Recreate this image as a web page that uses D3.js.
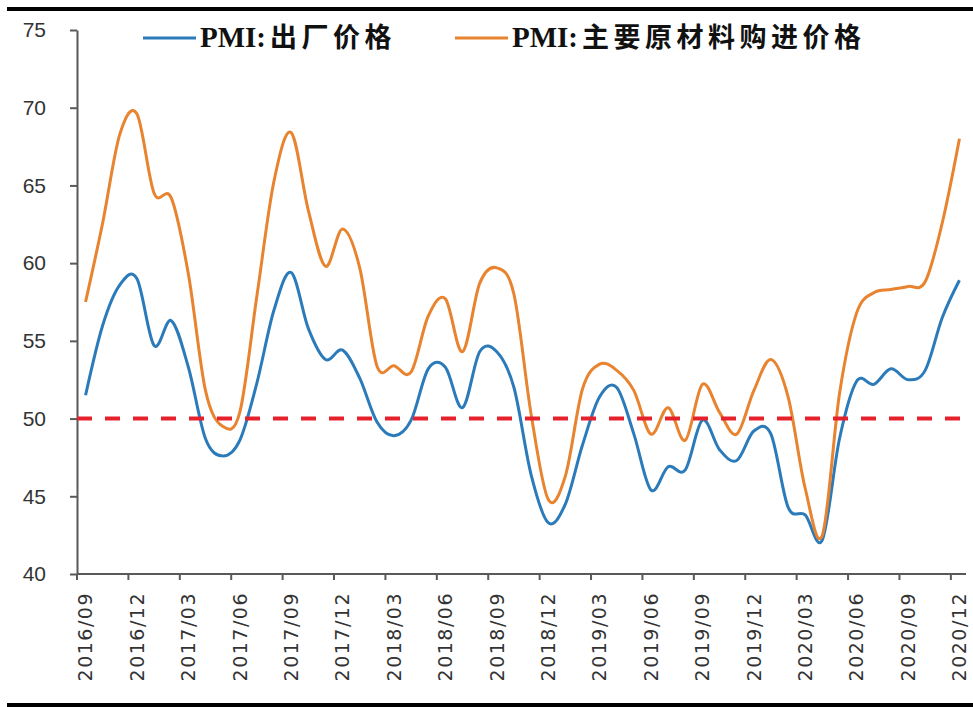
<!DOCTYPE html>
<html>
<head>
<meta charset="utf-8">
<script src="https://cdn.jsdelivr.net/npm/d3@7"></script>
<style>
  html, body { margin: 0; padding: 0; background: #fff; }
  svg { display: block; }
</style>
</head>
<body>
<div id="chart"></div>
<script>
// months shown on the category axis
const months = [
  "2016/09","2016/10","2016/11","2016/12",
  "2017/01","2017/02","2017/03","2017/04","2017/05","2017/06","2017/07","2017/08","2017/09","2017/10","2017/11","2017/12",
  "2018/01","2018/02","2018/03","2018/04","2018/05","2018/06","2018/07","2018/08","2018/09","2018/10","2018/11","2018/12",
  "2019/01","2019/02","2019/03","2019/04","2019/05","2019/06","2019/07","2019/08","2019/09","2019/10","2019/11","2019/12",
  "2020/01","2020/02","2020/03","2020/04","2020/05","2020/06","2020/07","2020/08","2020/09","2020/10","2020/11","2020/12"
];
const tickMonths = [
  "2016/09","2016/12","2017/03","2017/06","2017/09","2017/12","2018/03","2018/06","2018/09",
  "2018/12","2019/03","2019/06","2019/09","2019/12","2020/03","2020/06","2020/09","2020/12"
];

// PMI: 出厂价格
const outputPrice = [
  51.5, 56.0, 58.6, 59.0,
  54.7, 56.3, 53.3, 48.7, 47.6, 48.6, 52.3, 57.0, 59.4, 55.8, 53.8, 54.4,
  52.6, 49.8, 48.9, 49.9, 53.2, 53.3, 50.7, 54.3, 54.3, 52.0, 46.4, 43.3,
  44.5, 48.3, 51.4, 52.0, 49.0, 45.4, 46.9, 46.7, 49.9, 48.0, 47.3, 49.2,
  49.0, 44.3, 43.8, 42.2, 48.7, 52.4, 52.2, 53.2, 52.5, 53.1, 56.5, 58.9
];
// PMI: 主要原材料购进价格
const inputPrice = [
  57.5, 62.6, 68.3, 69.6,
  64.5, 64.2, 59.3, 51.8, 49.5, 50.4, 57.9, 65.3, 68.4, 63.4, 59.8, 62.2,
  59.7, 53.4, 53.4, 53.0, 56.6, 57.7, 54.3, 58.7, 59.7, 58.0, 50.3, 44.8,
  46.3, 51.9, 53.5, 53.1, 51.8, 49.0, 50.7, 48.6, 52.2, 50.4, 49.0, 51.8,
  53.8, 51.4, 45.5, 42.5, 51.6, 56.8, 58.1, 58.3, 58.5, 58.8, 62.6, 68.0
];

const seriesNames = ["PMI:出厂价格", "PMI:主要原材料购进价格"];
const seriesColors = ["#2b7bba", "#e8832f"];
const yTicks = [40, 45, 50, 55, 60, 65, 70, 75];
const threshold = 50;

const width = 973, height = 707;

const svg = d3.select("#chart").append("svg")
    .attr("width", width)
    .attr("height", height);

const x = d3.scaleBand().domain(months).range([77, 968]);
const y = d3.scaleLinear().domain([40, 75]).range([574, 30]);
const cx = m => x(m) + x.bandwidth() / 2;

// frame lines top and bottom
svg.append("line")
    .attr("x1", 7).attr("x2", width)
    .attr("y1", 9).attr("y2", 9)
    .style("stroke", "#000").style("stroke-width", 4);
svg.append("line")
    .attr("x1", 7).attr("x2", width)
    .attr("y1", 705).attr("y2", 705)
    .style("stroke", "#000").style("stroke-width", 4);

// y axis
const yAxis = svg.append("g")
    .attr("transform", "translate(" + x.range()[0] + ",0)")
    .call(d3.axisLeft(y).tickValues(yTicks).tickSize(7).tickSizeOuter(0).tickPadding(24));
yAxis.select(".domain").style("stroke", "#595959").style("stroke-width", 2);
yAxis.selectAll(".tick line").style("stroke", "#595959").style("stroke-width", 2);
yAxis.selectAll("text")
    .style("font-family", "'Liberation Sans', Arial, sans-serif")
    .style("font-size", "21px")
    .style("fill", "#333");

// x axis: labels at month centers, tick marks at month starts
const xAxis = svg.append("g")
    .attr("transform", "translate(0," + y(40) + ")")
    .call(d3.axisBottom(x).tickValues(tickMonths).tickSize(0));
xAxis.select(".domain").remove();
xAxis.selectAll("text")
    .attr("transform", "rotate(-90)")
    .attr("x", -18)
    .attr("y", 0)
    .attr("dy", "0.36em")
    .attr("text-anchor", "end")
    .style("font-family", "'DejaVu Sans', sans-serif")
    .style("font-size", "19px")
    .style("letter-spacing", "1.5px")
    .style("fill", "#333");

svg.append("line")
    .attr("x1", x.range()[0]).attr("x2", x.range()[1] - 2)
    .attr("y1", y(40)).attr("y2", y(40))
    .style("stroke", "#595959").style("stroke-width", 2);
svg.append("g").selectAll("line")
    .data(tickMonths)
    .join("line")
    .attr("x1", d => x(d)).attr("x2", d => x(d))
    .attr("y1", y(40)).attr("y2", y(40) + 6)
    .style("stroke", "#595959").style("stroke-width", 2);

// series (smoothed like the spreadsheet original)
const line = d3.line()
    .x((d, i) => cx(months[i]))
    .y(d => y(d))
    .curve(d3.curveCardinal.tension(0));

[outputPrice, inputPrice].forEach(function(values, k) {
    svg.append("path")
        .datum(values)
        .attr("d", line)
        .style("fill", "none")
        .style("stroke", seriesColors[k])
        .style("stroke-width", 3)
        .style("stroke-linejoin", "round");
});

// 50 line
svg.append("line")
    .attr("x1", x.range()[0]).attr("x2", width)
    .attr("y1", y(threshold)).attr("y2", y(threshold))
    .style("stroke", "#e5222c")
    .style("stroke-width", 4)
    .style("stroke-dasharray", "15,13");

// legend
const legendX = [143, 455];
seriesNames.forEach(function(name, k) {
    const g = svg.append("g").attr("transform", "translate(" + legendX[k] + ",0)");
    g.append("line")
        .attr("x1", 0).attr("x2", 53)
        .attr("y1", 38).attr("y2", 38)
        .style("stroke", seriesColors[k])
        .style("stroke-width", 3);
    const t = g.append("text")
        .attr("x", 57)
        .attr("y", 47)
        .style("fill", "#111");
    t.append("tspan")
        .text(name.slice(0, 4))
        .style("font-family", "'Liberation Serif', 'Times New Roman', serif")
        .style("font-weight", "bold")
        .style("font-size", "29px");
    t.append("tspan")
        .attr("dx", 4)
        .text(name.slice(4))
        .style("font-family", "'Noto Sans CJK SC', sans-serif")
        .style("font-weight", "bold")
        .style("font-size", "27px")
        .style("letter-spacing", "4.5px");
});
</script>
</body>
</html>
